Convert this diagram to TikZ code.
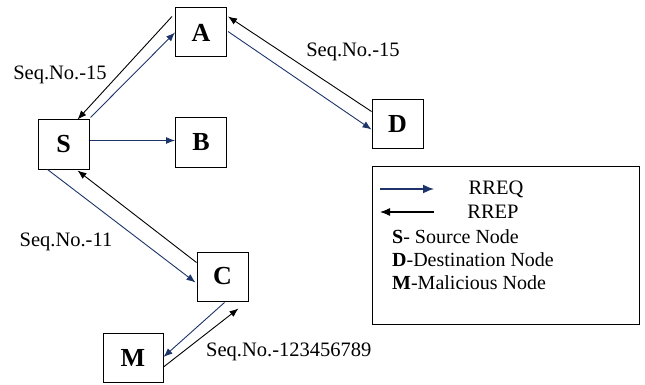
\documentclass[tikz,border=0pt]{standalone}
\usepackage{fontspec}
\setmainfont{Liberation Serif}
\usetikzlibrary{arrows.meta}
\definecolor{reqblue}{RGB}{28,52,105}
\tikzset{
  netnode/.style={draw=black, line width=1pt, minimum width=51pt, minimum height=49pt, inner sep=0pt, font=\fontsize{26}{26}\selectfont\bfseries},
  lbl/.style={inner sep=0pt, font=\fontsize{20.5}{20.5}\selectfont},
  req/.style={draw=reqblue, line width=0.9pt, -{Latex[length=9pt,width=7pt]}},
  rep/.style={draw=black, line width=0.9pt, -{Latex[length=9pt,width=7pt]}},
  legarrow/.style={line width=1.6pt, -{Latex[length=11pt,width=9pt]}},
  legtext/.style={inner sep=0pt, anchor=base west, font=\fontsize{20}{22}\selectfont}
}
\begin{document}
\begin{tikzpicture}[x=1pt,y=-1pt]
\useasboundingbox (0,0) rectangle (645,385);
% nodes
\node[netnode] (A) at (201,32.5) {A};
\node[netnode] (S) at (63.5,144.5) {S};
\node[netnode] (B) at (201,142.5) {B};
\node[netnode] (D) at (397.5,124.5) {D};
\node[netnode] (C) at (222.5,276.5) {C};
\node[netnode, minimum width=60pt] (M) at (133,358) {M};
% S - A
\draw[rep] ([shift={(-3,9)}]A.north west) -- ([shift={(-12,0)}]S.north east);
\draw[req] ([shift={(1,-2)}]S.north east) -- ([shift={(0,0)}]A.west);
% S - B
\draw[req] ([shift={(0,-4)}]S.east) -- ([shift={(0,-2)}]B.west);
% A - D
\draw[rep] ([shift={(0,12)}]D.north west) -- ([shift={(1,9)}]A.north east);
\draw[req] ([shift={(1,-1)}]A.east) -- ([shift={(0,5)}]D.west);
% S - C
\draw[req] ([shift={(10,0)}]S.south west) -- ([shift={(-1,6)}]C.west);
\draw[rep] ([shift={(0,11)}]C.north west) -- ([shift={(-12,1)}]S.south east);
% C - M
\draw[req] ([shift={(2,1)}]C.south) -- ([shift={(0,24)}]M.north east);
\draw[rep] ([shift={(0,9)}]M.east) -- ([shift={(-10,7)}]C.south east);
% labels
\node[lbl] (l1) at (60,75) {Seq.No.-15};
\node[lbl] (l2) at (353,52) {Seq.No.-15};
\node[lbl] (l3) at (66,242) {Seq.No.-11};
\node[lbl, anchor=west] (l4) at (206,352) {Seq.No.-123456789};
% legend
\node[draw=black, line width=0.9pt, minimum width=267pt, minimum height=158pt, inner sep=0pt] (leg) at (505.5,245) {};
\coordinate (q1) at (380,189);
\coordinate (q2) at (434,189);
\coordinate (p1) at (434,212);
\coordinate (p2) at (380,212);
\draw[req, legarrow] (q1) -- (q2);
\draw[rep, line width=1.2pt, -{Latex[length=10pt,width=8pt]}] (p1) -- (p2);
\node[lbl] (rreq) at (496,189) {RREQ};
\node[lbl] (rrep) at (493,212) {RREP};
\node[legtext] (ls) at (392,243) {\textbf{S}- Source Node};
\node[legtext] (ld) at (392,266) {\textbf{D}-Destination Node};
\node[legtext] (lm) at (392,289) {\textbf{M}-Malicious Node};
\end{tikzpicture}
\end{document}
